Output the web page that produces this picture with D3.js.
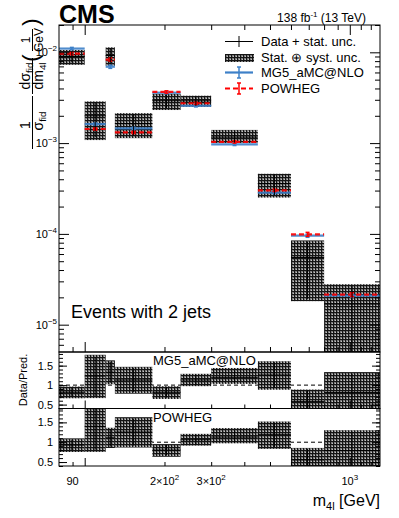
<!DOCTYPE html>
<html><head><meta charset="utf-8">
<script src="https://cdn.jsdelivr.net/npm/d3@7"></script>
<style>
body{margin:0;background:#fff}
text{font-family:"Liberation Sans",Arial,Helvetica,sans-serif;fill:#000}
</style>
</head><body><div id="plot"></div><script>
// bin edges in m4l (GeV)
var edges = [80, 100, 120, 130, 180, 230, 300, 450, 600, 800, 1300];
// normalised cross sections (1/GeV)
var data   = [8.99e-3, 2.0e-3, 9.23e-3, 1.644e-3, 2.93e-3, 2.92e-3, 1.164e-3, 3.59e-4, 5.5e-5, 1.69e-5];
var statUp = [0.14, 0.40, 0.20, 0.27, 0.17, 0.12, 0.15, 0.26, 0.50, 0.60];
var statDn = [0.14, 0.42, 0.20, 0.27, 0.17, 0.12, 0.13, 0.26, 0.65, 0.80];
var totUp  = [0.18, 0.44, 0.23, 0.30, 0.19, 0.14, 0.20, 0.28, 0.54, 0.65];
var totDn  = [0.19, 0.46, 0.23, 0.31, 0.21, 0.14, 0.14, 0.30, 0.67, 0.85];
var mg     = [1.10e-2, 1.62e-3, 6.94e-3, 1.455e-3, 3.59e-3, 2.58e-3, 9.7e-4, 2.85e-4, 9.55e-5, 2.09e-5];
var mgErr  = [0.03, 0.03, 0.04, 0.03, 0.03, 0.03, 0.03, 0.03, 0.04, 0.04];
var powheg = [9.67e-3, 1.43e-3, 8.32e-3, 1.31e-3, 3.66e-3, 2.75e-3, 1.03e-3, 3.02e-4, 9.9e-5, 2.14e-5];
var powErr = [0.03, 0.03, 0.04, 0.03, 0.03, 0.03, 0.03, 0.03, 0.05, 0.05];

var xMajor = [100, 1000];
var xMinor = [90, 200, 300, 400, 500, 600, 700, 800, 900, 1100, 1200];
var xLabels = [[90, "90", ""], [200, "2\u00d710", "2"], [300, "3\u00d710", "2"], [1000, "10", "3"]];
var yMajor = [1e-5, 1e-4, 1e-3, 1e-2];
var yLabels = [[1e-5, "\u22125"], [1e-4, "\u22124"], [1e-3, "\u22123"], [1e-2, "\u22122"]];
var rMajor = [0.5, 1, 1.5];

var W = 399, H = 518;
var L = 59, R = 380, T = 25, B = 352, R1 = 408.5, R2 = 466;

var svg = d3.select("#plot").append("svg").attr("width", W).attr("height", H);

var defs = svg.append("defs");
var pat = defs.append("pattern").attr("id", "hatch").attr("width", 3).attr("height", 3)
    .attr("patternUnits", "userSpaceOnUse");
pat.append("rect").attr("width", 3).attr("height", 3).attr("fill", "#7c7c7c");
pat.append("rect").attr("width", 3).attr("height", 1).attr("fill", "#141414");
pat.append("rect").attr("width", 1).attr("height", 3).attr("fill", "#141414");
pat.append("rect").attr("x", 2).attr("y", 2).attr("width", 1).attr("height", 1).attr("fill", "#c4c4c4");

function clip(id, y0, y1) {
  defs.append("clipPath").attr("id", id).append("rect")
     .attr("x", L).attr("y", y0).attr("width", R - L).attr("height", y1 - y0);
}
clip("cMain", T, B); clip("cR1", B, R1); clip("cR2", R1, R2);

var x = d3.scaleLog().domain([80, 1300]).range([L, R]);
var y = d3.scaleLog().domain([5e-6, 2e-2]).range([B, T]);
var yr1 = d3.scaleLinear().domain([0.4, 1.85]).range([R1, B]);
var yr2 = d3.scaleLinear().domain([0.4, 1.85]).range([R2, R1]);

var bins = d3.range(data.length).map(function(i) {
  return {lo: edges[i], hi: edges[i + 1], c: Math.sqrt(edges[i] * edges[i + 1]),
          d: data[i], su: statUp[i], sd: statDn[i], tu: totUp[i], td: totDn[i],
          mg: mg[i], me: mgErr[i], pw: powheg[i], pe: powErr[i]};
});

var blue = "#3d80c8", red = "#ff0000";

// ---------- main panel ----------
var gm = svg.append("g").attr("clip-path", "url(#cMain)");
gm.selectAll("rect.box").data(bins).enter().append("rect")
  .attr("x", function(d) { return x(d.lo); })
  .attr("width", function(d) { return x(d.hi) - x(d.lo); })
  .attr("y", function(d) { return y(d.d * (1 + d.tu)); })
  .attr("height", function(d) { return y(Math.max(d.d * (1 - d.td), 1e-7)) - y(d.d * (1 + d.tu)); })
  .attr("fill", "url(#hatch)");

function crosses(g, ys, val, up, dn) {
  g.selectAll(null).data(bins).enter().append("line")
    .attr("x1", function(d) { return x(d.lo); }).attr("x2", function(d) { return x(d.hi); })
    .attr("y1", function(d) { return ys(val(d)); }).attr("y2", function(d) { return ys(val(d)); })
    .attr("stroke", "#000").attr("stroke-width", 1);
  g.selectAll(null).data(bins).enter().append("line")
    .attr("x1", function(d) { return x(d.c); }).attr("x2", function(d) { return x(d.c); })
    .attr("y1", function(d) { return ys(val(d) * (1 + up(d))); })
    .attr("y2", function(d) { return ys(Math.max(val(d) * (1 - dn(d)), 1e-7)); })
    .attr("stroke", "#000").attr("stroke-width", 1);
}

function pred(g, key, errKey, color, dash) {
  g.selectAll(null).data(bins).enter().append("line")
    .attr("x1", function(d) { return x(d.lo); }).attr("x2", function(d) { return x(d.hi); })
    .attr("y1", function(d) { return y(d[key]); }).attr("y2", function(d) { return y(d[key]); })
    .attr("stroke", color).attr("stroke-width", 2.2).attr("stroke-opacity", 0.9)
    .attr("stroke-dasharray", dash);
  g.selectAll(null).data(bins).enter().append("line")
    .attr("x1", function(d) { return x(d.c); }).attr("x2", function(d) { return x(d.c); })
    .attr("y1", function(d) { return y(d[key] * (1 + d[errKey])); })
    .attr("y2", function(d) { return y(d[key] * (1 - d[errKey])); })
    .attr("stroke", color).attr("stroke-width", 1.5);
  [1, -1].forEach(function(s) {
    g.selectAll(null).data(bins).enter().append("line")
      .attr("x1", function(d) { return x(d.c) - 2; }).attr("x2", function(d) { return x(d.c) + 2; })
      .attr("y1", function(d) { return y(d[key] * (1 + s * d[errKey])); })
      .attr("y2", function(d) { return y(d[key] * (1 + s * d[errKey])); })
      .attr("stroke", color).attr("stroke-width", 1.5);
  });
}
pred(gm, "mg", "me", blue, null);
pred(gm, "pw", "pe", red, "5,3");
crosses(gm, y, function(d) { return d.d; }, function(d) { return d.su; }, function(d) { return d.sd; });

// ---------- ratio panels ----------
function noDomain(a) { a.select(".domain").remove(); }
function ratioPanel(ys, clipId, key, y0, y1, label) {
  var g = svg.append("g").attr("clip-path", "url(#" + clipId + ")");
  g.append("line").attr("x1", L).attr("x2", R).attr("y1", ys(1)).attr("y2", ys(1))
    .attr("stroke", "#000").attr("stroke-width", 1).attr("stroke-dasharray", "4,3");
  g.selectAll(null).data(bins).enter().append("rect")
    .attr("x", function(d) { return x(d.lo); })
    .attr("width", function(d) { return x(d.hi) - x(d.lo); })
    .attr("y", function(d) { return ys(d.d / d[key] * (1 + d.tu)); })
    .attr("height", function(d) { return ys(d.d / d[key] * (1 - d.td)) - ys(d.d / d[key] * (1 + d.tu)); })
    .attr("fill", "url(#hatch)");
  crosses(g, ys, function(d) { return d.d / d[key]; }, function(d) { return d.su; }, function(d) { return d.sd; });
  svg.append("text").attr("x", 153).attr("y", y0 + 13)
    .attr("font-size", 13).text(label);
  var minor = d3.range(4, 19).map(function(v) { return v / 10; });
  svg.append("g").attr("transform", "translate(" + L + ",0)")
    .call(d3.axisRight(ys).tickValues(minor).tickSize(4).tickFormat("")).call(noDomain);
  svg.append("g").attr("transform", "translate(" + L + ",0)")
    .call(d3.axisRight(ys).tickValues(rMajor).tickSize(8).tickFormat("")).call(noDomain);
  svg.append("g").attr("transform", "translate(" + R + ",0)")
    .call(d3.axisLeft(ys).tickValues(minor).tickSize(4).tickFormat("")).call(noDomain);
  svg.append("g").attr("transform", "translate(" + R + ",0)")
    .call(d3.axisLeft(ys).tickValues(rMajor).tickSize(8).tickFormat("")).call(noDomain);
  svg.selectAll(null).data(rMajor).enter().append("text")
    .attr("x", 53).attr("y", function(v) { return ys(v) + 4; })
    .attr("text-anchor", "end")
    .attr("font-size", 11).text(function(v) { return v; });
  svg.append("g").attr("transform", "translate(0," + y1 + ")")
    .call(d3.axisTop(x).tickValues(xMinor).tickSize(4).tickFormat("")).call(noDomain);
  svg.append("g").attr("transform", "translate(0," + y1 + ")")
    .call(d3.axisTop(x).tickValues(xMajor).tickSize(8).tickFormat("")).call(noDomain);
  svg.append("rect").attr("x", L).attr("y", y0).attr("width", R - L).attr("height", y1 - y0)
    .attr("fill", "none").attr("stroke", "#000").attr("stroke-width", 1);
}
ratioPanel(yr1, "cR1", "mg", B, R1, "MG5_aMC@NLO");
ratioPanel(yr2, "cR2", "pw", R1, R2, "POWHEG");

// ---------- main axes ----------
var yMinor = [];
[1e-6, 1e-5, 1e-4, 1e-3, 1e-2].forEach(function(dec) {
  for (var k = 2; k <= 9; k++) {
    var v = k * dec;
    if (v >= 5e-6 && v <= 2e-2) yMinor.push(v);
  }
});
function ticks(tr, axis, vals, size) {
  svg.append("g").attr("transform", tr)
    .call(axis.tickValues(vals).tickSize(size).tickFormat("")).call(noDomain);
}
ticks("translate(" + L + ",0)", d3.axisRight(y), yMinor, 5);
ticks("translate(" + L + ",0)", d3.axisRight(y), yMajor, 10);
ticks("translate(" + R + ",0)", d3.axisLeft(y), yMinor, 5);
ticks("translate(" + R + ",0)", d3.axisLeft(y), yMajor, 10);
ticks("translate(0," + T + ")", d3.axisBottom(x), xMinor, 5);
ticks("translate(0," + T + ")", d3.axisBottom(x), xMajor, 10);
ticks("translate(0," + B + ")", d3.axisTop(x), xMinor, 5);
ticks("translate(0," + B + ")", d3.axisTop(x), xMajor, 10);
svg.append("rect").attr("x", L).attr("y", T).attr("width", R - L).attr("height", B - T)
  .attr("fill", "none").attr("stroke", "#000").attr("stroke-width", 1);

svg.selectAll(null).data(yLabels).enter().append("text")
  .attr("x", 57).attr("y", function(d) { return y(d[0]) + 4; })
  .attr("text-anchor", "end").attr("font-size", 11)
  .each(function(d) {
    var t = d3.select(this);
    t.append("tspan").text("10");
    t.append("tspan").attr("font-size", 8).attr("dy", -5).text(d[1]);
  });

svg.selectAll(null).data(xLabels).enter().append("text")
  .attr("x", function(d) { return x(d[0]); }).attr("y", 485)
  .attr("text-anchor", "middle").attr("font-size", 11)
  .each(function(d) {
    var t = d3.select(this);
    t.append("tspan").text(d[1]);
    if (d[2]) t.append("tspan").attr("font-size", 8).attr("dy", -5).text(d[2]);
  });

// axis titles
var xt = svg.append("text").attr("x", R).attr("y", 506).attr("text-anchor", "end").attr("font-size", 16);
xt.append("tspan").text("m");
xt.append("tspan").attr("font-size", 11).attr("dy", 4).text("4l");
xt.append("tspan").attr("dy", -4).text(" [GeV]");

svg.append("text").attr("transform", "translate(27,380) rotate(-90)")
  .attr("text-anchor", "middle")
  .attr("font-size", 11).text("Data/Pred.");

// rotated y title: bx = baseline x on screen, sy = centre along the axis
function rtext(bx, sy, parts, size) {
  var t = svg.append("text").attr("transform", "translate(" + bx + "," + sy + ") rotate(-90)")
    .attr("text-anchor", "middle").attr("font-size", size);
  parts.forEach(function(p) {
    if (p[1] === "sub") t.append("tspan").attr("font-size", size * 0.7).attr("dy", 3).text(p[0]);
    else t.append("tspan").text(p[0]);
  });
}
function rbar(sx, y0, y1) {
  svg.append("line").attr("x1", sx).attr("x2", sx).attr("y1", y0).attr("y2", y1)
    .attr("stroke", "#000").attr("stroke-width", 1);
}
rtext(30, 125, [["1"]], 14);
rbar(32.5, 96, 149);
rtext(43, 121, [["\u03c3"], ["fid", "sub"]], 14);
rtext(30, 76, [["d\u03c3"], ["fid", "sub"]], 14);
rbar(32.5, 58, 94);
rtext(43, 76, [["dm"], ["4l", "sub"]], 14);
rtext(38, 58, [["("]], 22);
rtext(30, 40, [["1"]], 12);
rbar(32.5, 29, 51);
rtext(43, 40, [["GeV"]], 12);
rtext(38, 22, [[")"]], 22);

// labels
svg.append("text").attr("x", 59).attr("y", 23).attr("font-size", 25).attr("font-weight", "bold").text("CMS");
var lumi = svg.append("text").attr("x", 366).attr("y", 22).attr("text-anchor", "end").attr("font-size", 12);
lumi.append("tspan").text("138 fb");
lumi.append("tspan").attr("font-size", 8).attr("dy", -5).text("-1");
lumi.append("tspan").attr("dy", 5).text(" (13 TeV)");
svg.append("text").attr("x", 71).attr("y", 318)
  .attr("font-size", 18).text("Events with 2 jets");

// legend
var lg = svg.append("g");
var lx0 = 225, lx1 = 253, lc = 239, ltx = 261;
lg.append("line").attr("x1", lx0).attr("x2", lx1).attr("y1", 41.5).attr("y2", 41.5).attr("stroke", "#000");
lg.append("line").attr("x1", lc).attr("x2", lc).attr("y1", 36).attr("y2", 47).attr("stroke", "#000");
lg.append("rect").attr("x", lx0).attr("y", 54).attr("width", lx1 - lx0 + 1).attr("height", 8).attr("fill", "url(#hatch)");
lg.append("line").attr("x1", lx0).attr("x2", lx1).attr("y1", 72.5).attr("y2", 72.5)
  .attr("stroke", blue).attr("stroke-width", 2.2);
lg.append("line").attr("x1", lc).attr("x2", lc).attr("y1", 67).attr("y2", 78).attr("stroke", blue).attr("stroke-width", 1.5);
[67, 78].forEach(function(v) {
  lg.append("line").attr("x1", lc - 2).attr("x2", lc + 2).attr("y1", v).attr("y2", v).attr("stroke", blue).attr("stroke-width", 1.5);
});
lg.append("line").attr("x1", lx0).attr("x2", lx1).attr("y1", 88.5).attr("y2", 88.5)
  .attr("stroke", red).attr("stroke-width", 2).attr("stroke-dasharray", "5,3");
lg.append("line").attr("x1", lc).attr("x2", lc).attr("y1", 83).attr("y2", 94).attr("stroke", red).attr("stroke-width", 1.5);
[83, 94].forEach(function(v) {
  lg.append("line").attr("x1", lc - 2).attr("x2", lc + 2).attr("y1", v).attr("y2", v).attr("stroke", red).attr("stroke-width", 1.5);
});
var legText = ["Data + stat. unc.", "Stat. \u2295 syst. unc.", "MG5_aMC@NLO", "POWHEG"];
var legY = [41.5, 57.5, 72.5, 88.5];
lg.selectAll(null).data(legText).enter().append("text")
  .attr("x", ltx).attr("y", function(d, i) { return legY[i] + 4.5; })
  .attr("font-size", 13).text(function(d) { return d; });
</script></body></html>
